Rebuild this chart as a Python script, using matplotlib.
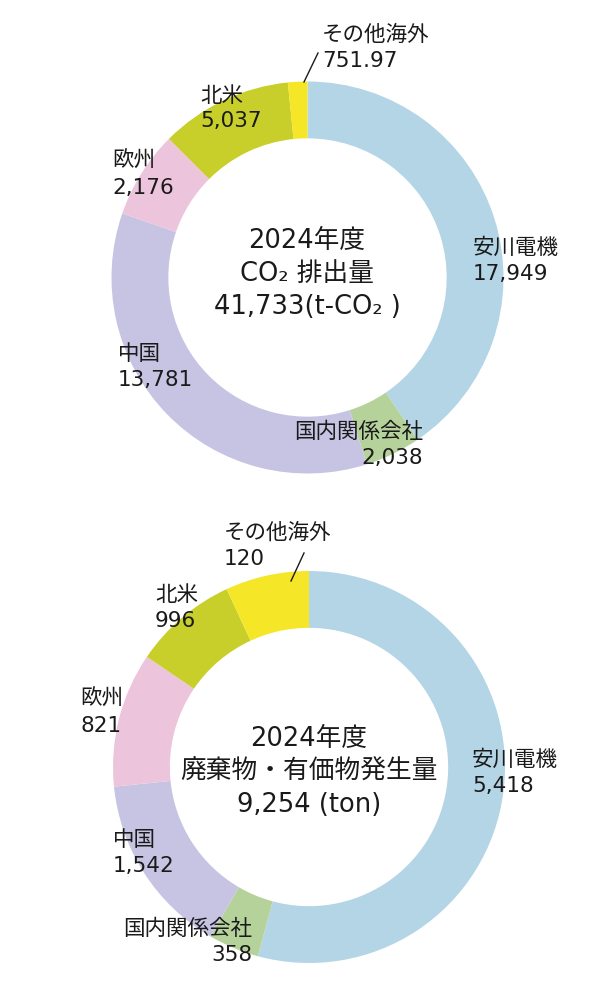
import matplotlib.pyplot as plt

plt.rcParams['font.family'] = ['DejaVu Sans', 'Noto Sans CJK JP']

W, H = 614, 985

# segments clockwise from 12 o'clock
names = ["安川電機", "国内関係会社", "中国", "欧州", "北米", "その他海外"]
colors = ["#b4d5e6", "#b6d29b", "#c6c4e2", "#ecc4dc", "#c8cf2a", "#f5e628"]

# CO2 chart: printed values and the slice shares (%) as drawn in the picture
co2_labels = ["17,949", "2,038", "13,781", "2,176", "5,037", "751.97"]
co2_share = [40.5, 4.6, 35.2, 7.2, 10.9, 1.6]

# waste chart
waste_labels = ["5,418", "358", "1,542", "821", "996", "120"]
waste_share = [54.2, 4.2, 15.0, 11.1, 8.6, 6.9]

co2_center = ["2024年度", "CO₂ 排出量", "41,733(t-CO₂ )"]
waste_center = ["2024年度", "廃棄物・有価物発生量", "9,254 (ton)"]


def fx(x):
    return x / W


def fy(y):
    return 1 - y / H


def donut(fig, cx, cy, r, share):
    ax = fig.add_axes([fx(cx - r), fy(cy + r), 2 * r / W, 2 * r / H])
    ax.pie(share, colors=colors, startangle=90, counterclock=False, radius=1,
           wedgeprops=dict(width=0.29, linewidth=0))
    ax.set_xlim(-1, 1)
    ax.set_ylim(-1, 1)
    ax.axis('off')
    return ax


def label(fig, x, y, name, value, ha='left', gap=26):
    fig.text(fx(x), fy(y), name, ha=ha, va='center', fontsize=15.5, color='#1a1a1a')
    fig.text(fx(x), fy(y + gap), value, ha=ha, va='center', fontsize=15.5, color='#1a1a1a')


fig = plt.figure(figsize=(W / 100, H / 100), dpi=100)

# top chart
donut(fig, 307.5, 277.5, 196, co2_share)
for i, line in enumerate(co2_center):
    fig.text(fx(307), fy(241 + 33 * i), line, ha='center', va='center', fontsize=18.5, color='#1a1a1a')
label(fig, 473, 248, names[0], co2_labels[0])
label(fig, 423, 432, names[1], co2_labels[1], ha='right')
label(fig, 118, 354, names[2], co2_labels[2])
label(fig, 112, 161, names[3], co2_labels[3], gap=27)
label(fig, 200, 96, names[4], co2_labels[4], gap=25)
label(fig, 322, 35, names[5], co2_labels[5])
fig.add_artist(plt.Line2D([fx(318), fx(304)], [fy(53), fy(82)], color='#1a1a1a', lw=1))

# bottom chart
donut(fig, 309, 767, 196, waste_share)
for i, line in enumerate(waste_center):
    fig.text(fx(309), fy(739 + 33 * i), line, ha='center', va='center', fontsize=18.5, color='#1a1a1a')
label(fig, 472, 760, names[0], waste_labels[0])
label(fig, 252, 929, names[1], waste_labels[1], ha='right')
label(fig, 113, 840, names[2], waste_labels[2])
label(fig, 80, 699, names[3], waste_labels[3], gap=27)
label(fig, 155, 595, names[4], waste_labels[4])
label(fig, 224, 533, names[5], waste_labels[5])
fig.add_artist(plt.Line2D([fx(304), fx(291)], [fy(553), fy(581)], color='#1a1a1a', lw=1))

fig.savefig('out.png', dpi=100)
